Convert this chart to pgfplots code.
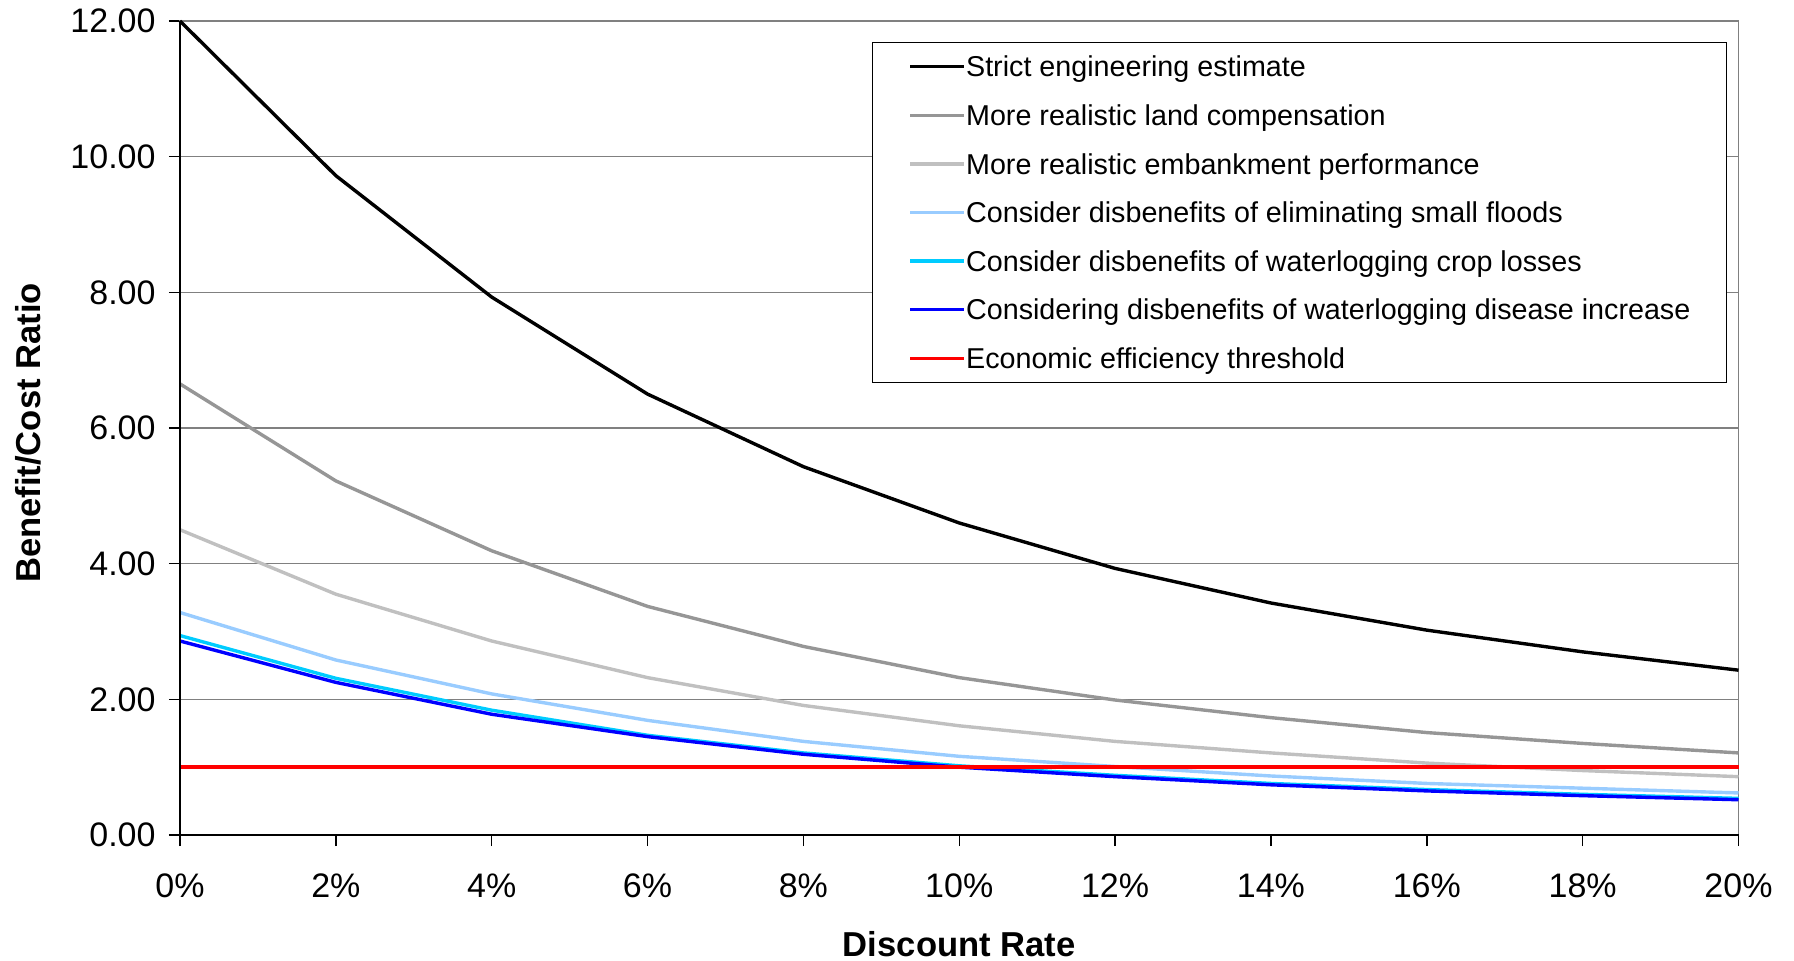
\documentclass[border=0pt]{standalone}
\usepackage{pgfplots}
\pgfplotsset{compat=1.18}
\usepackage{fontspec}
\setmainfont{Liberation Sans}
\definecolor{gA}{RGB}{150,150,150}
\definecolor{gB}{RGB}{192,192,192}
\definecolor{lblue}{RGB}{153,204,255}
\definecolor{cyanc}{RGB}{0,204,255}
\definecolor{bluec}{RGB}{0,0,255}
\definecolor{gridc}{RGB}{128,128,128}
\begin{document}
\begin{tikzpicture}
\path[use as bounding box] (-90pt,-62.5pt) rectangle (807pt,417.5pt);
\begin{axis}[
  at={(0,0)}, anchor=south west,
  scale only axis,
  width=779.25pt, height=407pt,
  xmin=0, xmax=20, ymin=0, ymax=12,
  clip=false,
  xtick={0,2,4,6,8,10,12,14,16,18,20},
  xticklabels={0\%,2\%,4\%,6\%,8\%,10\%,12\%,14\%,16\%,18\%,20\%},
  ytick={0,2,4,6,8,10,12},
  yticklabel={\pgfmathprintnumber[fixed,fixed zerofill,precision=2]{\tick}},
  /pgf/number format/assume math mode=true,
  xtick pos=left, ytick pos=left,
  tick align=outside,
  major tick length=5.5pt,
  tick style={black, line width=0.75pt},
  ymajorgrids,
  major grid style={gridc, line width=0.75pt},
  axis line style={draw=gridc, line width=0.75pt},
  ticklabel style={font=\fontsize{17}{20.4}\selectfont},
  xticklabel style={yshift=-10.5pt},
  yticklabel style={xshift=-3.2pt},
  xlabel={\textbf{Discount Rate}},
  ylabel={\textbf{Benefit/Cost Ratio}},
  label style={font=\fontsize{17.3}{20}\selectfont},
  xlabel style={at={(axis description cs:0.5,0)}, anchor=center, yshift=-54.5pt},
  ylabel style={at={(axis description cs:0,0.5)}, anchor=center, yshift=76pt, xshift=-2.5pt},
  legend cell align=left,
  legend image code/.code={\draw[#1] (0pt,0pt) -- (22.5pt,0pt); \path (0pt,0pt) -- (27pt,0pt);},
  legend style={at={(rel axis cs:0.444,0.9746)}, anchor=north west,
    draw=black, line width=0.75pt, inner xsep=18pt, inner ysep=0pt,
    font=\fontsize{14.35}{17}\selectfont, row sep=0pt,
    nodes={inner sep=0pt, text height=17.25pt, text depth=7.05pt}},
  every axis plot/.append style={line width=1.7pt},
]
\addplot[black] coordinates {(0,12.00) (2,9.72) (4,7.93) (6,6.50) (8,5.43) (10,4.60) (12,3.93) (14,3.42) (16,3.02) (18,2.70) (20,2.43)};
\addlegendentry{Strict engineering estimate}
\addplot[gA] coordinates {(0,6.65) (2,5.22) (4,4.19) (6,3.37) (8,2.78) (10,2.32) (12,1.99) (14,1.73) (16,1.51) (18,1.35) (20,1.21)};
\addlegendentry{More realistic land compensation}
\addplot[gB] coordinates {(0,4.50) (2,3.55) (4,2.86) (6,2.32) (8,1.91) (10,1.61) (12,1.38) (14,1.21) (16,1.06) (18,0.95) (20,0.86)};
\addlegendentry{More realistic embankment performance}
\addplot[lblue] coordinates {(0,3.28) (2,2.58) (4,2.08) (6,1.69) (8,1.38) (10,1.16) (12,1.01) (14,0.87) (16,0.76) (18,0.69) (20,0.62)};
\addlegendentry{Consider disbenefits of eliminating small floods}
\addplot[cyanc] coordinates {(0,2.94) (2,2.31) (4,1.84) (6,1.47) (8,1.21) (10,1.02) (12,0.88) (14,0.76) (16,0.67) (18,0.60) (20,0.54)};
\addlegendentry{Consider disbenefits of waterlogging crop losses}
\addplot[bluec] coordinates {(0,2.86) (2,2.25) (4,1.78) (6,1.45) (8,1.19) (10,1.00) (12,0.86) (14,0.74) (16,0.65) (18,0.58) (20,0.52)};
\addlegendentry{Considering disbenefits of waterlogging disease increase}
\addplot[red] coordinates {(0,1) (20,1)};
\addlegendentry{Economic efficiency threshold}
\draw[black, line width=0.75pt] (rel axis cs:0,1) -- (rel axis cs:0,0) -- (rel axis cs:1,0);
\end{axis}
\end{tikzpicture}
\end{document}
